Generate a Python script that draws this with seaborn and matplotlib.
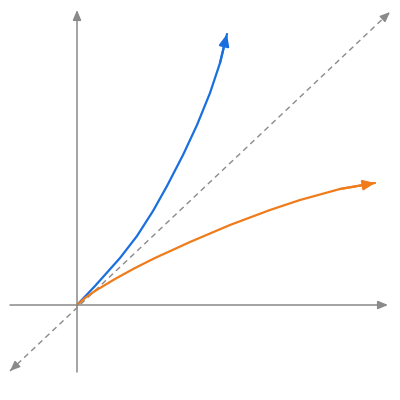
import numpy as np
import pandas as pd
import seaborn as sns
import matplotlib.pyplot as plt

# curve points (origin at 0,0)
blue_x = [0.0, 0.18, 0.43, 0.60, 0.76, 0.90, 1.06, 1.20, 1.33, 1.43, 1.50]
blue_y = [0.0, 0.19, 0.47, 0.69, 0.94, 1.19, 1.50, 1.80, 2.12, 2.42, 2.71]
orange_x = [0.0, 0.08, 0.18, 0.38, 0.58, 0.78, 1.13, 1.53, 1.93, 2.23, 2.63, 2.98]
orange_y = [0.0, 0.07, 0.14, 0.26, 0.37, 0.47, 0.63, 0.80, 0.95, 1.05, 1.16, 1.22]
diag_x = [-0.67, 3.13]
diag_y = [-0.66, 2.93]
xaxis_x = [-0.67, 3.11]
yaxis_y = [-0.67, 2.95]

blue_c = '#1a6fdf'
orange_c = '#f07b1a'
gray_c = '#8a8a8a'

sns.set_style('white')
fig = plt.figure(figsize=(4, 4), dpi=100)
ax = fig.add_axes([0, 0, 1, 1])
ax.set_xlim(-0.77, 3.23)
ax.set_ylim(-0.95, 3.05)
ax.axis('off')

def arrow(x0, y0, x1, y1, color, lw, hl=0.6, hw=0.25):
    ax.annotate('', xy=(x1, y1), xytext=(x0, y0),
                arrowprops=dict(arrowstyle=f'-|>,head_length={hl},head_width={hw}',
                                color=color, lw=lw, shrinkA=0, shrinkB=0))

# axes
arrow(xaxis_x[0], 0, xaxis_x[1], 0, gray_c, 1.1)
arrow(0, yaxis_y[0], 0, yaxis_y[1], gray_c, 1.1)

# dashed diagonal with arrowheads on both ends
diag = pd.DataFrame({'x': diag_x, 'y': diag_y})
sns.lineplot(data=diag, x='x', y='y', ax=ax, color=gray_c, lw=1.0,
             linestyle=(0, (4, 3)), sort=False)
arrow(diag_x[1] - 0.05, diag_y[1] - 0.047, diag_x[1], diag_y[1], gray_c, 1.0)
arrow(diag_x[0] + 0.05, diag_y[0] + 0.047, diag_x[0], diag_y[0], gray_c, 1.0)

# curves
for xs, ys, c in [(blue_x, blue_y, blue_c), (orange_x, orange_y, orange_c)]:
    d = pd.DataFrame({'x': xs, 'y': ys})
    sns.lineplot(data=d, x='x', y='y', ax=ax, color=c, lw=1.6, sort=False)
    arrow(xs[-2], ys[-2], xs[-1], ys[-1], c, 1.6, 0.7, 0.3)

fig.savefig('out.png', dpi=100)
